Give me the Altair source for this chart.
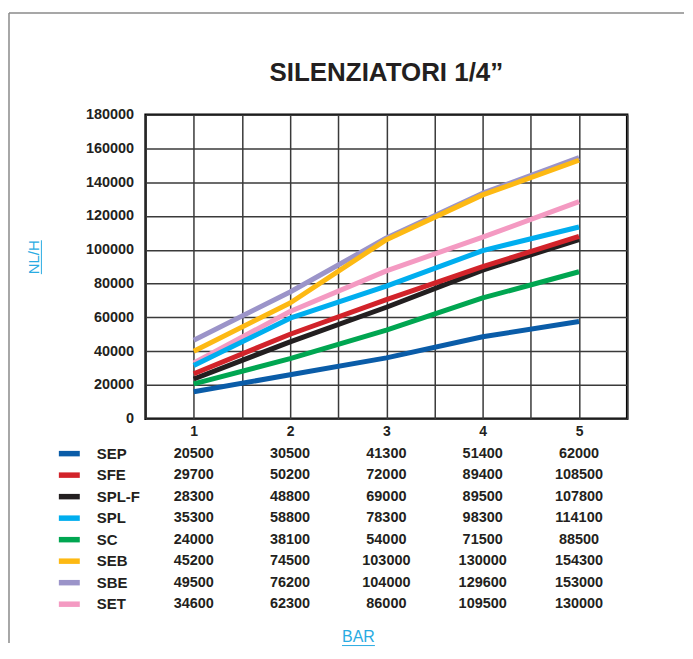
import altair as alt
import pandas as pd

# ---- data ----
series = ["SEP", "SFE", "SPL-F", "SPL", "SC", "SEB", "SBE", "SET"]
colors = ["#0a5ca8", "#d2232a", "#231f20", "#00aeef", "#00a651", "#fdb913", "#9b94c9", "#f49ac2"]
bar = [1, 2, 3, 4, 5]

# curves as drawn in the plot (NL/H)
curve_SEP = [16000, 26000, 36000, 48500, 57500]
curve_SFE = [26600, 50000, 70500, 90000, 108000]
curve_SPLF = [23500, 45500, 66000, 88000, 106000]
curve_SPL = [31500, 59500, 78500, 99500, 113500]
curve_SC = [20600, 35600, 52500, 71500, 87000]
curve_SEB = [40000, 68500, 106000, 132500, 153000]
curve_SBE = [46500, 75000, 107000, 133500, 154500]
curve_SET = [33000, 63500, 87500, 107500, 128500]

# values printed in the table
table_SEP = [20500, 30500, 41300, 51400, 62000]
table_SFE = [29700, 50200, 72000, 89400, 108500]
table_SPLF = [28300, 48800, 69000, 89500, 107800]
table_SPL = [35300, 58800, 78300, 98300, 114100]
table_SC = [24000, 38100, 54000, 71500, 88500]
table_SEB = [45200, 74500, 103000, 130000, 154300]
table_SBE = [49500, 76200, 104000, 129600, 153000]
table_SET = [34600, 62300, 86000, 109500, 130000]

y_ticks = list(range(0, 180001, 20000))
x_grid = [0.5, 1, 1.5, 2, 2.5, 3, 3.5, 4, 4.5, 5, 5.5]

curves = dict(zip(series, [curve_SEP, curve_SFE, curve_SPLF, curve_SPL, curve_SC,
                           curve_SEB, curve_SBE, curve_SET]))
tables = dict(zip(series, [table_SEP, table_SFE, table_SPLF, table_SPL, table_SC,
                           table_SEB, table_SBE, table_SET]))
color_of = dict(zip(series, colors))

FONT = "Liberation Sans"
INK = "#231f20"
CYAN = "#29abe2"
W, H = 483, 305

xscale = alt.Scale(domain=[0.5, 5.5], nice=False, zero=False)
yscale = alt.Scale(domain=[0, 180000], nice=False)
xaxis = alt.Axis(values=x_grid,
                 labelExpr="datum.value % 1 == 0 ? format(datum.value, 'd') : ''",
                 grid=True, gridColor="#3a3a3a", gridWidth=1.5, ticks=False, domain=False,
                 labelFontSize=14, labelFontWeight="bold", labelColor=INK, labelFont=FONT,
                 labelPadding=6, title=None)
yaxis = alt.Axis(values=y_ticks, format="d", grid=True, gridColor="#3a3a3a", gridWidth=1.5,
                 ticks=False, domain=False, labelFontSize=14.5, labelFontWeight="bold",
                 labelColor=INK, labelFont=FONT, labelPadding=12, title=None)

# ---- lines ----
draw_order = ["SBE", "SET", "SEP", "SC", "SPL-F", "SFE", "SPL", "SEB"]
line_layers = []
for s in draw_order:
    d = pd.DataFrame({"bar": bar, "v": curves[s]})
    line_layers.append(
        alt.Chart(d).mark_line(color=color_of[s], strokeWidth=5, strokeJoin="round")
        .encode(x=alt.X("bar:Q", scale=xscale, axis=xaxis),
                y=alt.Y("v:Q", scale=yscale, axis=yaxis))
    )

def txt(t, **kw):
    return alt.Chart(pd.DataFrame({"t": [t]})).mark_text(font=FONT, **kw)

one = pd.DataFrame({"k": [0]})
annot = [
    txt("SILENZIATORI 1/4\u201d", fontSize=26, fontWeight="bold", color=INK,
        align="center", baseline="alphabetic").encode(
        x=alt.value(241.5), y=alt.value(-34), text="t:N"),
    txt("NL/H", fontSize=15, color=CYAN, angle=270, align="center",
        baseline="alphabetic").encode(x=alt.value(-106.5), y=alt.value(143), text="t:N"),
    alt.Chart(one).mark_rule(color=CYAN, strokeWidth=1).encode(
        x=alt.value(-104.5), y=alt.value(126), y2=alt.value(160)),
    txt("BAR", fontSize=16, color=CYAN, align="center",
        baseline="alphabetic").encode(x=alt.value(213.5), y=alt.value(529), text="t:N"),
    alt.Chart(one).mark_rule(color=CYAN, strokeWidth=1).encode(
        x=alt.value(197), x2=alt.value(230), y=alt.value(532.5)),
    # page frame
    alt.Chart(one).mark_rule(color="#8a8a8a", strokeWidth=1.5).encode(
        x=alt.value(-137), y=alt.value(-102), y2=alt.value(530)),
    alt.Chart(one).mark_rule(color="#8a8a8a", strokeWidth=1.5).encode(
        x=alt.value(-137), x2=alt.value(540), y=alt.value(-102)),
]

plot = alt.layer(*line_layers, *annot)

# ---- table ----
rows = []
for s in series:
    for b, v in zip(bar, tables[s]):
        rows.append({"series": s, "bar": b, "val": str(v)})
df_table = pd.DataFrame(rows)
df_leg = pd.DataFrame({"series": series})

rowscale = alt.Scale(type="point", domain=series, range=[340, 491], padding=0)

values_layer = alt.Chart(df_table).mark_text(
    font=FONT, fontSize=14.5, fontWeight="bold", color=INK, baseline="middle"
).encode(x=alt.X("bar:Q", scale=xscale, axis=xaxis),
         y=alt.Y("series:N", scale=rowscale, axis=None),
         text="val:N")

swatch_layer = alt.Chart(df_leg).mark_rule(strokeWidth=5.5).encode(
    x=alt.value(-87), x2=alt.value(-66),
    y=alt.Y("series:N", scale=rowscale, axis=None),
    color=alt.Color("series:N", scale=alt.Scale(domain=series, range=colors), legend=None))

names_layer = alt.Chart(df_leg).mark_text(
    font=FONT, fontSize=15, fontWeight="bold", color=INK, align="left", baseline="middle"
).encode(x=alt.value(-49),
         y=alt.Y("series:N", scale=rowscale, axis=None),
         text="series:N")

table = alt.layer(values_layer, swatch_layer, names_layer)

chart = alt.layer(plot, table).resolve_scale(y="independent").properties(
    width=W, height=H,
    padding={"left": 0, "top": 3, "right": 0, "bottom": 0},
    background="white",
).configure_view(stroke="black", strokeWidth=2.5)

chart.save("out.html", embed_options={"renderer": "svg", "actions": False})
